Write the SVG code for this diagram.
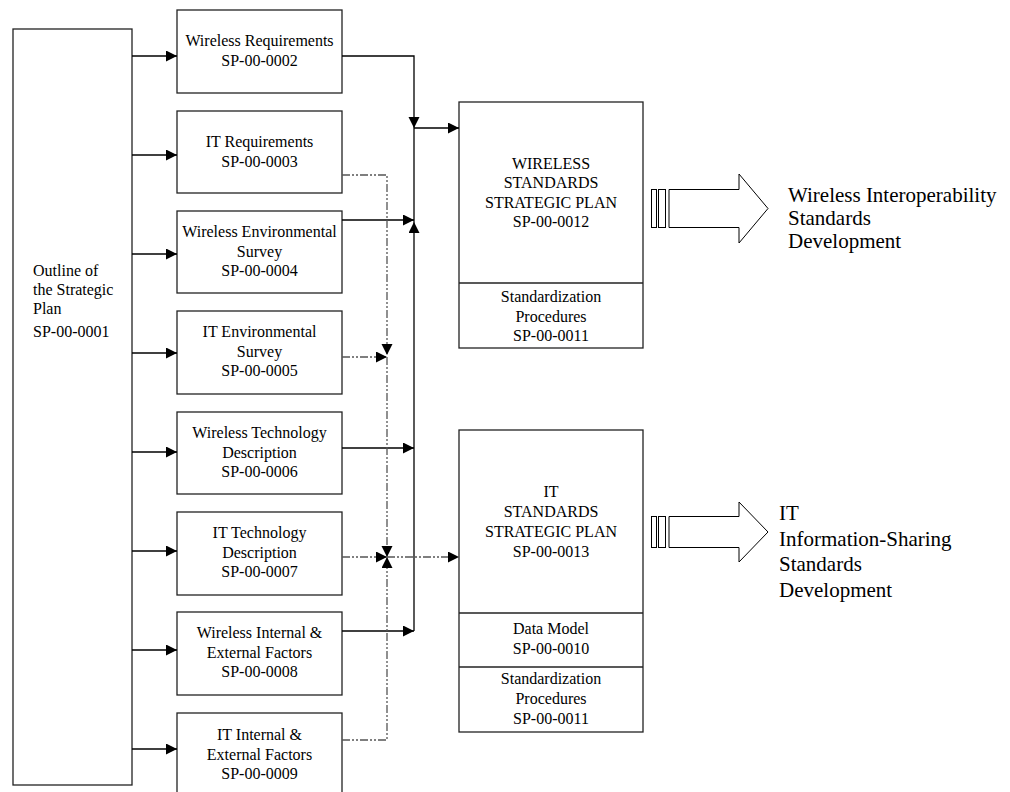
<svg xmlns="http://www.w3.org/2000/svg" width="1010" height="792" viewBox="0 0 1010 792">
<defs>
<style>
.box{fill:#fff;stroke:#222;stroke-width:1.3}
.t{font-family:"Liberation Serif","Times New Roman",serif;font-size:16px;fill:#000;text-anchor:middle}
.tl{font-family:"Liberation Serif","Times New Roman",serif;font-size:16px;fill:#000}
.big{font-family:"Liberation Serif","Times New Roman",serif;font-size:21px;fill:#000}
.s{fill:none;stroke:#000;stroke-width:1.3}
.d{fill:none;stroke:#555;stroke-width:1.3;stroke-dasharray:8 2 2 2 2 2}
.fat{fill:#fff;stroke:#000;stroke-width:1}
</style>
<marker id="ah" markerUnits="userSpaceOnUse" markerWidth="12" markerHeight="12" refX="11" refY="5.5" orient="auto">
<path d="M0,0 L11,5.5 L0,11 Z" fill="#000"/>
</marker>
</defs>
<rect width="1010" height="792" fill="#fff"/>

<g id="outline">
<rect class="box" x="13" y="29" width="119" height="756"/>
<text class="tl" x="33" y="276">Outline of</text>
<text class="tl" x="33" y="295">the Strategic</text>
<text class="tl" x="33" y="314">Plan</text>
<text class="tl" x="33" y="337">SP-00-0001</text>
</g>

<g id="n2">
<rect class="box" x="177" y="10" width="165" height="83"/>
<text class="t" x="259.5" y="46">Wireless Requirements</text>
<text class="t" x="259.5" y="65.5">SP-00-0002</text>
</g>
<g id="n3">
<rect class="box" x="177" y="111" width="165" height="82"/>
<text class="t" x="259.5" y="147">IT Requirements</text>
<text class="t" x="259.5" y="166.5">SP-00-0003</text>
</g>
<g id="n4">
<rect class="box" x="177" y="211" width="165" height="82"/>
<text class="t" x="259.5" y="237">Wireless Environmental</text>
<text class="t" x="259.5" y="256.5">Survey</text>
<text class="t" x="259.5" y="276">SP-00-0004</text>
</g>
<g id="n5">
<rect class="box" x="177" y="311" width="165" height="83"/>
<text class="t" x="259.5" y="337">IT Environmental</text>
<text class="t" x="259.5" y="356.5">Survey</text>
<text class="t" x="259.5" y="376">SP-00-0005</text>
</g>
<g id="n6">
<rect class="box" x="177" y="412" width="165" height="82"/>
<text class="t" x="259.5" y="438">Wireless Technology</text>
<text class="t" x="259.5" y="457.5">Description</text>
<text class="t" x="259.5" y="477">SP-00-0006</text>
</g>
<g id="n7">
<rect class="box" x="177" y="512" width="165" height="83"/>
<text class="t" x="259.5" y="538">IT Technology</text>
<text class="t" x="259.5" y="557.5">Description</text>
<text class="t" x="259.5" y="577">SP-00-0007</text>
</g>
<g id="n8">
<rect class="box" x="177" y="612" width="165" height="83"/>
<text class="t" x="259.5" y="638">Wireless Internal &amp;</text>
<text class="t" x="259.5" y="657.5">External Factors</text>
<text class="t" x="259.5" y="677">SP-00-0008</text>
</g>
<g id="n9">
<rect class="box" x="177" y="713" width="165" height="83"/>
<text class="t" x="259.5" y="740">IT Internal &amp;</text>
<text class="t" x="259.5" y="759.5">External Factors</text>
<text class="t" x="259.5" y="779">SP-00-0009</text>
</g>

<g id="wireless-plan">
<rect class="box" x="459" y="102" width="184" height="246"/>
<line x1="459" y1="283" x2="643" y2="283" stroke="#222" stroke-width="1.3"/>
<text class="t" x="551" y="169">WIRELESS</text>
<text class="t" x="551" y="188.3">STANDARDS</text>
<text class="t" x="551" y="207.6">STRATEGIC PLAN</text>
<text class="t" x="551" y="227">SP-00-0012</text>
<text class="t" x="551" y="302">Standardization</text>
<text class="t" x="551" y="321.5">Procedures</text>
<text class="t" x="551" y="341">SP-00-0011</text>
</g>

<g id="it-plan">
<rect class="box" x="459" y="430" width="184" height="302"/>
<line x1="459" y1="613" x2="643" y2="613" stroke="#222" stroke-width="1.3"/>
<line x1="459" y1="667" x2="643" y2="667" stroke="#222" stroke-width="1.3"/>
<text class="t" x="551" y="497">IT</text>
<text class="t" x="551" y="517">STANDARDS</text>
<text class="t" x="551" y="537">STRATEGIC PLAN</text>
<text class="t" x="551" y="557">SP-00-0013</text>
<text class="t" x="551" y="634">Data Model</text>
<text class="t" x="551" y="654">SP-00-0010</text>
<text class="t" x="551" y="684">Standardization</text>
<text class="t" x="551" y="703.5">Procedures</text>
<text class="t" x="551" y="723.5">SP-00-0011</text>
</g>

<g id="wireless-output">
<rect class="fat" x="651.5" y="189.5" width="5" height="38"/>
<rect class="fat" x="658.5" y="189.5" width="7" height="38"/>
<path class="fat" d="M669,189.5 H739 V174 L768,208.5 L739,243 V227.5 H669 Z"/>
<text class="big" x="788" y="202">Wireless Interoperability</text>
<text class="big" x="788" y="225">Standards</text>
<text class="big" x="788" y="248">Development</text>
</g>

<g id="it-output">
<rect class="fat" x="651.5" y="516.5" width="5" height="31"/>
<rect class="fat" x="658.5" y="516.5" width="7" height="31"/>
<path class="fat" d="M669,516.5 H739 V502 L768,532 L739,562 V547.5 H669 Z"/>
<text class="big" x="779" y="520">IT</text>
<text class="big" x="779" y="546">Information-Sharing</text>
<text class="big" x="779" y="571">Standards</text>
<text class="big" x="779" y="597">Development</text>
</g>

<g id="connectors">
<path class="s" d="M132,56 H177" marker-end="url(#ah)"/>
<path class="s" d="M132,155 H177" marker-end="url(#ah)"/>
<path class="s" d="M132,254 H177" marker-end="url(#ah)"/>
<path class="s" d="M132,353 H177" marker-end="url(#ah)"/>
<path class="s" d="M132,452 H177" marker-end="url(#ah)"/>
<path class="s" d="M132,551 H177" marker-end="url(#ah)"/>
<path class="s" d="M132,650 H177" marker-end="url(#ah)"/>
<path class="s" d="M132,749 H177" marker-end="url(#ah)"/>

<path class="s" d="M342,56 H414 V128" marker-end="url(#ah)"/>
<path class="s" d="M414,128 V222"/>
<path class="s" d="M342,220 H414" marker-end="url(#ah)"/>
<path class="s" d="M414,631 V222" marker-end="url(#ah)"/>
<path class="s" d="M342,448 H414" marker-end="url(#ah)"/>
<path class="s" d="M342,631 H414" marker-end="url(#ah)"/>
<path class="s" d="M414,128 H459" marker-end="url(#ah)"/>

<path class="d" d="M342,175 H387 V355" marker-end="url(#ah)"/>
<path class="d" d="M342,357 H387" marker-end="url(#ah)"/>
<path class="d" d="M387,357 V557" marker-end="url(#ah)"/>
<path class="d" d="M342,557 H387" marker-end="url(#ah)"/>
<path class="d" d="M342,740 H387 V557" marker-end="url(#ah)"/>
<path class="d" d="M387,557 H459" marker-end="url(#ah)"/>
</g>
</svg>
